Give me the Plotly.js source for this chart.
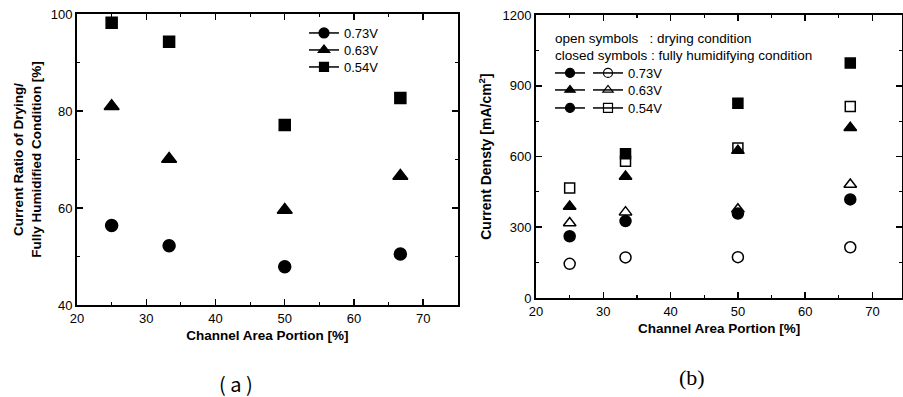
<!DOCTYPE html>
<html>
<head>
<meta charset="utf-8">
<script src="https://cdn.plot.ly/plotly-3.0.1.min.js"></script>
<style>html,body{margin:0;padding:0;background:#fff;}#chart{width:903px;height:397px;}</style>
</head>
<body>
<div id="chart"></div>
<script>
// ---- data ----
const channelArea = [25, 33.3, 50, 66.7];
// (a) current ratio drying / fully humidified [%]
const ratio073 = [56.4, 52.2, 47.9, 50.5];
const ratio063 = [81.0, 70.1, 59.6, 66.6];
const ratio054 = [98.2, 94.3, 77.1, 82.7];
// (b) current density [mA/cm2]
const humid073 = [262, 326, 358, 418];
const humid063 = [388, 515, 625, 722];
const humid054 = [null, 612, 826, 996];
const dry073 = [145, 172, 173, 215];
const dry063 = [318, 364, 376, 481];
const dry054 = [466, 580, 636, 812];
const legendLabels = ['0.73V', '0.63V', '0.54V'];

const F = '"Liberation Sans", Arial, sans-serif';
const blk = '#000';

function pts(x, y, sym, size, xa, ya) {
  return {x: x, y: y, type: 'scatter', mode: 'markers', xaxis: xa, yaxis: ya, showlegend: false,
    marker: {symbol: sym, size: size, color: blk, line: {color: blk, width: 1.5}}, cliponaxis: false};
}
function leg(name, sym, size, legendId) {
  return {x: [null], y: [null], type: 'scatter', mode: 'lines+markers', name: name, legend: legendId,
    xaxis: 'x', yaxis: 'y', line: {color: blk, width: 1.5},
    marker: {symbol: sym, size: size, color: blk, line: {color: blk, width: 1.2}}};
}

const traces = [
  pts(channelArea, ratio073, 'circle', 12, 'x', 'y'),
  pts(channelArea, ratio063, 'triangle-up', 13, 'x', 'y'),
  pts(channelArea, ratio054, 'square', 11, 'x', 'y'),
  pts(channelArea, humid073, 'circle', 11, 'x2', 'y2'),
  pts(channelArea, humid063, 'triangle-up', 11, 'x2', 'y2'),
  pts(channelArea, humid054, 'square', 10, 'x2', 'y2'),
  pts(channelArea, dry073, 'circle-open', 11, 'x2', 'y2'),
  pts(channelArea, dry063, 'triangle-up-open', 11, 'x2', 'y2'),
  pts(channelArea, dry054, 'square-open', 10, 'x2', 'y2'),
  leg(legendLabels[0], 'circle', 10, 'legend'),
  leg(legendLabels[1], 'triangle-up', 10, 'legend2'),
  leg(legendLabels[2], 'square', 9, 'legend3'),
  leg(' ', 'circle', 9, 'legend4'),
  leg(' ', 'triangle-up', 9, 'legend5'),
  leg(' ', 'circle', 9, 'legend6'),
  leg(legendLabels[0], 'circle-open', 9, 'legend7'),
  leg(legendLabels[1], 'triangle-up-open', 9, 'legend8'),
  leg(legendLabels[2], 'square-open', 9, 'legend9')
];

function axX(domain, anchor) {
  return {domain: domain, anchor: anchor, range: [20, 75], dtick: 10, tick0: 20,
    ticks: 'inside', ticklen: 6, tickwidth: 1.5, tickcolor: blk,
    minor: {dtick: 5, ticks: 'inside', ticklen: 3, tickwidth: 1.2, tickcolor: blk},
    showline: true, linewidth: 2, linecolor: blk, mirror: 'allticks', showgrid: false, zeroline: false,
    tickfont: {family: F, size: 13, color: blk},
    title: {text: '<b>Channel Area Portion [%]</b>', font: {family: F, size: 13.5, color: blk}, standoff: 6}};
}
function legPos(px, rowCenter) {
  return {x: px / 903, y: 1 - (rowCenter - 15) / 397, xanchor: 'left', yanchor: 'top', bgcolor: 'rgba(0,0,0,0)',
    font: {family: F, size: 13, color: blk}, itemwidth: 30};
}

const layout = {
  width: 903, height: 397,
  margin: {l: 0, r: 0, t: 0, b: 0},
  paper_bgcolor: '#fff', plot_bgcolor: '#fff',
  font: {family: F, color: blk},
  xaxis: axX([0.0853, 0.507], 'y'),
  yaxis: {domain: [0.2317, 0.9647], anchor: 'x', range: [40, 100], dtick: 20,
    ticks: 'inside', ticklen: 6, tickwidth: 1.5, tickcolor: blk,
    minor: {dtick: 10, ticks: 'inside', ticklen: 3, tickwidth: 1.2, tickcolor: blk},
    showline: true, linewidth: 2, linecolor: blk, mirror: 'allticks', showgrid: false, zeroline: false,
    tickfont: {family: F, size: 13, color: blk},
    title: {text: '<b>Current Ratio of Drying/<br>Fully Humidified Condition [%]</b>', font: {family: F, size: 13.5, color: blk}, standoff: 6}},
  xaxis2: Object.assign(axX([0.5936, 0.999], 'y2'), {range: [20, 74.4]}),
  yaxis2: {domain: [0.2494, 0.9622], anchor: 'x2', range: [0, 1200], dtick: 300,
    ticks: 'inside', ticklen: 6, tickwidth: 1.5, tickcolor: blk,
    minor: {dtick: 150, ticks: 'inside', ticklen: 3, tickwidth: 1.2, tickcolor: blk},
    showline: true, linewidth: 2, linecolor: blk, mirror: 'allticks', showgrid: false, zeroline: false,
    tickfont: {family: F, size: 13, color: blk},
    title: {text: '<b>Current Densty [mA/cm<sup>2</sup>]</b>', font: {family: F, size: 14, color: blk}, standoff: 8}},
  legend: legPos(304, 33),
  legend2: legPos(304, 50),
  legend3: legPos(304, 67),
  legend4: legPos(550, 73),
  legend5: legPos(550, 90),
  legend6: legPos(550, 108),
  legend7: legPos(588, 73),
  legend8: legPos(588, 90),
  legend9: legPos(588, 108),
  annotations: [
    {xref: 'paper', yref: 'paper', x: 553/903, y: 1 - 39/397, xanchor: 'left', yanchor: 'middle', showarrow: false,
      text: 'open symbols &nbsp; : drying condition', font: {family: F, size: 13.5, color: blk}},
    {xref: 'paper', yref: 'paper', x: 553/903, y: 1 - 55/397, xanchor: 'left', yanchor: 'middle', showarrow: false,
      text: 'closed symbols : fully humidifying condition', font: {family: F, size: 13.5, color: blk}},
    {xref: 'paper', yref: 'paper', x: 236/903, y: 1 - 383/397, xanchor: 'center', yanchor: 'middle', showarrow: false,
      text: '( a )', font: {family: '"Noto Sans CJK JP", sans-serif', size: 20, color: blk}},
    {xref: 'paper', yref: 'paper', x: 692/903, y: 1 - 377/397, xanchor: 'center', yanchor: 'middle', showarrow: false,
      text: '(b)', font: {family: '"Liberation Serif", "Times New Roman", serif', size: 22, color: blk}}
  ]
};

Plotly.newPlot('chart', traces, layout, {staticPlot: true, displayModeBar: false});
</script>
</body>
</html>
